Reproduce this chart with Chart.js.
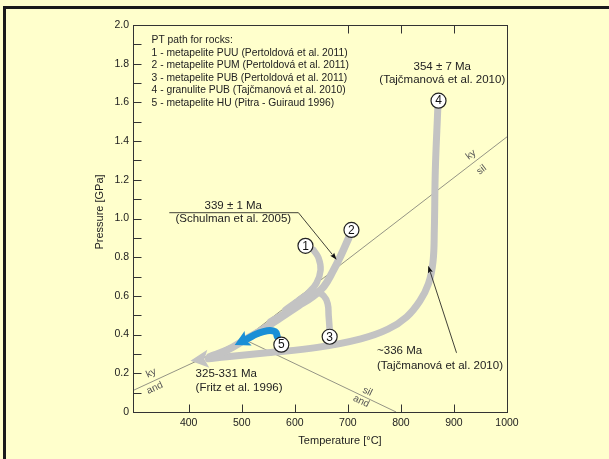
<!DOCTYPE html>
<html>
<head>
<meta charset="utf-8">
<script src="https://cdn.jsdelivr.net/npm/chart.js@4.4.1/dist/chart.umd.min.js"></script>
<style>
  html, body { margin: 0; padding: 0; background: #ffffcc; }
  canvas { display: block; }
</style>
</head>
<body>
<canvas id="pt" width="609" height="459"></canvas>
<script>
// axes
const tempTicks = [400, 500, 600, 700, 800, 900, 1000];
const pressureTicks = [0, 0.2, 0.4, 0.6, 0.8, 1.0, 1.2, 1.4, 1.6, 1.8, 2.0];
const pressureMarks = [0.1, 0.2, 0.3, 0.4, 0.5, 0.6, 0.7, 0.8, 0.9, 1.0, 1.1, 1.2, 1.3, 1.4, 1.5, 1.6, 1.7, 1.8, 1.9];
const tempMarksBottom = [400, 500, 600, 700, 800, 900];
const tempMarksTop = [700, 800, 900];

// Al2SiO5 reaction lines [T °C, P GPa]
const kyAnd = [[295, 0.111], [504, 0.376]];
const kySil = [[504, 0.376], [1000, 1.422]];
const silAnd = [[504, 0.376], [791, 0]];

// PT paths [T °C, P GPa]
const path1 = [[635.3, 0.837], [644.8, 0.796], [648.6, 0.734], [641.0, 0.667], [625.8, 0.616], [606.8, 0.565], [582.2, 0.513], [553.7, 0.467]];
const path2 = [[701.7, 0.900], [686.5, 0.807], [671.3, 0.725], [654.3, 0.647], [633.4, 0.596], [606.8, 0.549], [572.7, 0.487], [538.5, 0.425], [506.3, 0.374], [474.0, 0.322], [439.8, 0.286]];
const path3 = [[665.7, 0.426], [663.8, 0.498], [661.9, 0.560], [654.3, 0.601], [639.1, 0.622], [620.1, 0.601], [601.1, 0.565], [582.2, 0.528]];
const path4 = [[869.6, 1.571], [864.9, 1.251], [863.0, 0.941], [860.5, 0.776], [852.0, 0.663], [836.0, 0.575], [811.0, 0.492], [775.7, 0.428], [724.5, 0.378], [642.9, 0.334], [548.0, 0.306], [472.1, 0.286], [437.0, 0.275]];
const path5 = [[567.0, 0.389], [563.2, 0.415], [548.0, 0.420], [529.0, 0.404], [512.0, 0.381]];

const circles = [[620.1, 0.859], [706.8, 0.941], [665.7, 0.389], [870.9, 1.609], [574.6, 0.348]];
const circleLabels = ['1', '2', '3', '4', '5'];

// age pointers
const schulmanPointer = [[364, 1.030], [606.8, 1.030], [670.5, 0.815]];
const tajcPointer = [[904.7, 0.307], [855.6, 0.721]];

const legendLines = [
  'PT path for rocks:',
  '1 - metapelite PUU (Pertoldová et al. 2011)',
  '2 - metapelite PUM (Pertoldová et al. 2011)',
  '3 - metapelite PUB (Pertoldová et al. 2011)',
  '4 - granulite PUB (Tajčmanová et al. 2010)',
  '5 - metapelite HU (Pitra - Guiraud 1996)'
];

const notes = [
  { text: '354 ± 7 Ma', T: 878, P: 1.783, align: 'center' },
  { text: '(Tajčmanová et al. 2010)', T: 878, P: 1.716, align: 'center' },
  { text: '339 ± 1 Ma', T: 484, P: 1.068, align: 'center' },
  { text: '(Schulman et al. 2005)', T: 484, P: 0.998, align: 'center' },
  { text: '~336 Ma', T: 755, P: 0.317, align: 'left' },
  { text: '(Tajčmanová et al. 2010)', T: 755, P: 0.239, align: 'left' },
  { text: '325-331 Ma', T: 413, P: 0.198, align: 'left' },
  { text: '(Fritz et al. 1996)', T: 413, P: 0.123, align: 'left' }
];

const phaseLabels = [
  { text: 'ky', T: 329, P: 0.201, line: kyAnd },
  { text: 'and', T: 336, P: 0.124, line: kyAnd },
  { text: 'ky', T: 932, P: 1.329, line: kySil },
  { text: 'sil', T: 952, P: 1.251, line: kySil },
  { text: 'sil', T: 737, P: 0.106, line: silAnd },
  { text: 'and', T: 725, P: 0.055, line: silAnd }
];

const FONT = "'Liberation Sans', Arial, sans-serif";
const GRAY = '#c3c3c3';
const BLUE = '#1a8fd6';

const pts = arr => arr.map(([x, y]) => ({ x, y }));

function pathSet(data, width, color, order, head, tension = 0.4) {
  return {
    data: pts(data),
    showLine: true,
    borderColor: color,
    borderWidth: width,
    borderCapStyle: 'round',
    borderJoinStyle: 'round',
    tension,
    pointRadius: 0,
    fill: false,
    order,
    arrowHead: head
  };
}

function boundarySet(data) {
  return {
    data: pts(data),
    showLine: true,
    borderColor: '#666',
    borderWidth: 0.7,
    tension: 0,
    pointRadius: 0,
    order: 9
  };
}

const pagePlugin = {
  id: 'page',
  beforeDraw(chart) {
    const { ctx, width, height } = chart;
    ctx.save();
    ctx.fillStyle = '#ffffcc';
    ctx.fillRect(0, 0, width, height);
    ctx.fillStyle = '#1a1a1a';
    ctx.fillRect(3, 6, 3, height - 6);
    ctx.fillRect(3, 6, width - 3, 3);
    ctx.restore();
  },
  afterDatasetsDraw(chart) {
    const { ctx } = chart;
    ctx.save();
    chart.data.datasets.forEach((ds, i) => {
      if (!ds.arrowHead) return;
      const els = chart.getDatasetMeta(i).data;
      const a = els[els.length - 2], b = els[els.length - 1];
      const dx = b.x - a.x, dy = b.y - a.y, d = Math.hypot(dx, dy);
      const ux = dx / d, uy = dy / d, nx = -uy, ny = ux;
      const h = ds.arrowHead;
      ctx.fillStyle = ds.borderColor;
      ctx.beginPath();
      ctx.moveTo(b.x + ux * h.len, b.y + uy * h.len);
      ctx.lineTo(b.x + nx * h.half, b.y + ny * h.half);
      ctx.lineTo(b.x + ux * h.notch, b.y + uy * h.notch);
      ctx.lineTo(b.x - nx * h.half, b.y - ny * h.half);
      ctx.closePath();
      ctx.fill();
    });
    // numbers in the circles
    const meta = chart.getDatasetMeta(0);
    ctx.fillStyle = '#111';
    ctx.font = '12px ' + FONT;
    ctx.textAlign = 'center';
    ctx.textBaseline = 'middle';
    meta.data.forEach((el, i) => ctx.fillText(circleLabels[i], el.x, el.y + 0.5));
    ctx.restore();
  },
  afterDraw(chart) {
    const { ctx, chartArea: area, scales: { x, y } } = chart;
    const L = Math.round(area.left) + 0.5, R = Math.round(area.right) + 0.5;
    const T = Math.round(area.top) + 0.5, B = Math.round(area.bottom) + 0.5;
    ctx.save();
    ctx.strokeStyle = '#333';
    ctx.lineWidth = 1;
    ctx.strokeRect(L, T, R - L, B - T);
    ctx.beginPath();
    pressureMarks.forEach(v => {
      const py = Math.round(y.getPixelForValue(v)) + 0.5;
      ctx.moveTo(L, py); ctx.lineTo(L + 8, py);
    });
    tempMarksBottom.forEach(v => {
      const px = Math.round(x.getPixelForValue(v)) + 0.5;
      ctx.moveTo(px, B); ctx.lineTo(px, B - 8);
    });
    tempMarksTop.forEach(v => {
      const px = Math.round(x.getPixelForValue(v)) + 0.5;
      ctx.moveTo(px, T); ctx.lineTo(px, T + 8);
    });
    ctx.stroke();

    // axis titles
    ctx.fillStyle = '#222';
    ctx.font = '11px ' + FONT;
    ctx.textAlign = 'center';
    ctx.textBaseline = 'middle';
    ctx.fillText('Temperature [°C]', 340, 441);
    ctx.save();
    ctx.translate(100, 212);
    ctx.rotate(-Math.PI / 2);
    ctx.fillText('Pressure [GPa]', 0, 0);
    ctx.restore();

    // legend block
    ctx.textAlign = 'left';
    ctx.font = '10.3px ' + FONT;
    const lx = x.getPixelForValue(330);
    legendLines.forEach((t, i) => ctx.fillText(t, lx, y.getPixelForValue(1.926) + 1 + i * 12.5));

    // age notes
    ctx.font = '11.5px ' + FONT;
    notes.forEach(n => {
      ctx.textAlign = n.align;
      ctx.fillText(n.text, x.getPixelForValue(n.T), y.getPixelForValue(n.P));
    });

    // reaction line labels
    ctx.fillStyle = '#555';
    ctx.font = '10px ' + FONT;
    ctx.textAlign = 'center';
    phaseLabels.forEach(p => {
      const [a, b] = p.line;
      const ang = Math.atan2(y.getPixelForValue(b[1]) - y.getPixelForValue(a[1]),
                             x.getPixelForValue(b[0]) - x.getPixelForValue(a[0]));
      const rot = Math.abs(ang) > Math.PI / 2 ? ang + Math.PI : ang;
      ctx.save();
      ctx.translate(x.getPixelForValue(p.T), y.getPixelForValue(p.P));
      ctx.rotate(rot);
      ctx.fillText(p.text, 0, 0);
      ctx.restore();
    });
    ctx.restore();
  }
};

const tickFont = { family: FONT, size: 10.5 };

new Chart(document.getElementById('pt'), {
  type: 'scatter',
  data: {
    datasets: [
      {
        data: pts(circles),
        pointRadius: 7.5,
        pointStyle: 'circle',
        pointBackgroundColor: '#ffffff',
        pointBorderColor: '#222',
        pointBorderWidth: 1.2,
        showLine: false,
        order: 0
      },
      pathSet(schulmanPointer, 0.8, '#111', 1, { len: 7, half: 2.5, notch: 1 }, 0),
      pathSet(tajcPointer, 0.8, '#111', 1, { len: 7, half: 2.5, notch: 1 }, 0),
      pathSet(path5, 7, BLUE, 2, { len: 15, half: 8, notch: 3 }),
      pathSet(path1, 6.5, GRAY, 3),
      pathSet(path3, 6.5, GRAY, 3),
      pathSet(path2, 7.5, GRAY, 3),
      pathSet(path4, 7, GRAY, 4, { len: 18, half: 9, notch: 4 }),
      boundarySet(kyAnd),
      boundarySet(kySil),
      boundarySet(silAnd)
    ]
  },
  options: {
    responsive: false,
    animation: false,
    events: [],
    layout: { padding: { left: 0, top: 25, right: 102, bottom: 0 } },
    plugins: {
      legend: { display: false },
      tooltip: { enabled: false }
    },
    scales: {
      x: {
        type: 'linear',
        min: 295,
        max: 1000,
        afterBuildTicks: s => { s.ticks = tempTicks.map(v => ({ value: v })); },
        afterFit: s => { s.height = 47; },
        grid: { display: false, drawTicks: false },
        border: { display: false },
        ticks: { padding: 5, color: '#222', font: tickFont, maxRotation: 0, autoSkip: false, callback: v => String(v) }
      },
      y: {
        type: 'linear',
        min: 0,
        max: 2,
        afterBuildTicks: s => { s.ticks = pressureTicks.map(v => ({ value: v })); },
        afterFit: s => { s.width = 133; },
        grid: { display: false, drawTicks: false },
        border: { display: false },
        ticks: {
          padding: 4,
          color: '#222',
          font: tickFont,
          autoSkip: false,
          callback: v => (v === 0 ? '0' : v.toFixed(1))
        }
      }
    }
  },
  plugins: [pagePlugin]
});
</script>
</body>
</html>
